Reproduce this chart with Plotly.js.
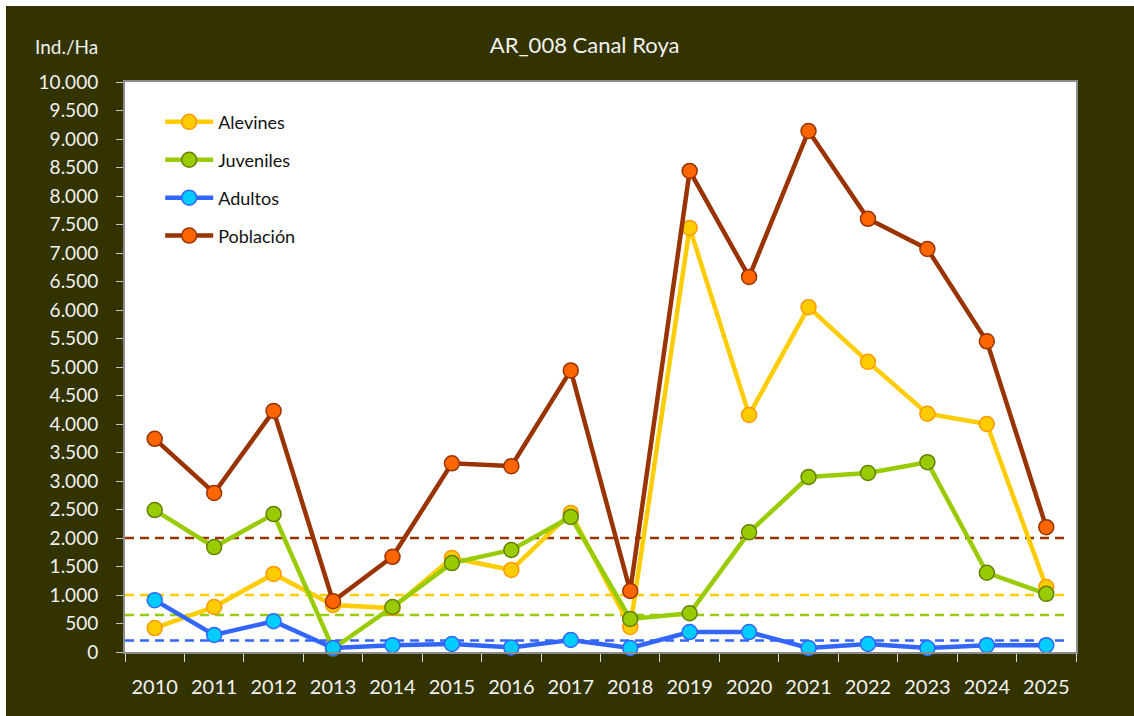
<!DOCTYPE html>
<html>
<head>
<meta charset="utf-8">
<script src="https://cdn.plot.ly/plotly-3.0.1.min.js"></script>
<style>
  html, body { margin: 0; padding: 0; background: #ffffff; width: 1134px; height: 716px; overflow: hidden; }
  #chart { position: absolute; left: 6px; top: 6px; width: 1128px; height: 710px; }
</style>
</head>
<body>
<div id="chart"></div>
<script>
// ---- data ----
const years = ['2010','2011','2012','2013','2014','2015','2016','2017','2018','2019','2020','2021','2022','2023','2024','2025'];
const alevines  = [420, 790, 1370, 825, 770, 1650, 1440, 2440, 440, 7440, 4160, 6050, 5090, 4180, 4000, 1140];
const juveniles = [2490, 1840, 2420, 60, 790, 1560, 1790, 2370, 580, 680, 2100, 3070, 3140, 3330, 1390, 1020];
const adultos   = [910, 300, 540, 70, 120, 140, 80, 210, 70, 350, 350, 70, 140, 70, 120, 120];
const poblacion = [3740, 2790, 4230, 890, 1670, 3310, 3260, 4940, 1070, 8440, 6580, 9140, 7600, 7070, 5450, 2190];
// reference (threshold) levels: Población, Alevines, Juveniles, Adultos
const refLabels = ['Población', 'Alevines', 'Juveniles', 'Adultos'];
const refValues = [2000, 1000, 650, 200];
const yTickVals = [0,500,1000,1500,2000,2500,3000,3500,4000,4500,5000,5500,6000,6500,7000,7500,8000,8500,9000,9500,10000];

const FONT = 'Lato, "Open Sans", "DejaVu Sans", sans-serif';
const BG = '#333300';
const TXT = '#f2f2ee';

function series(name, y, lineColor, fill, outline) {
  return {
    type: 'scatter', mode: 'lines+markers', name: name,
    x: years, y: y, cliponaxis: false,
    legendgroup: name,
    line: { color: lineColor, width: 4.5 },
    marker: { symbol: 'circle', size: 15, color: fill, line: { color: outline, width: 1.5 } }
  };
}

const traces = [
  series('Alevines', alevines, '#FFCC00', '#FFCC00', '#FF9900'),
  series('Juveniles', juveniles, '#99CC00', '#99CC00', '#667F00'),
  series('Adultos', adultos, '#3366FF', '#00CCFF', '#3366FF'),
  series('Población', poblacion, '#993300', '#FF6600', '#993300')
];

const refColors = { 'Población': '#993300', 'Alevines': '#FFCC00', 'Juveniles': '#99CC00', 'Adultos': '#3366FF' };
const shapes = refValues.map((v, i) => ({
  type: 'line', xref: 'paper', yref: 'y', x0: 0, x1: 0.99, y0: v, y1: v,
  layer: 'below',
  line: { color: refColors[refLabels[i]], width: 2.5, dash: '9px,6px' }
}));

const layout = {
  width: 1128, height: 710,
  paper_bgcolor: BG, plot_bgcolor: '#ffffff',
  margin: { l: 119, r: 58, t: 76, b: 64 },
  separators: ',.',
  font: { family: FONT, color: TXT, size: 19 },
  title: {
    text: 'AR_008 Canal Roya', xref: 'container', x: 0.513, xanchor: 'center',
    yref: 'container', y: 0.944, yanchor: 'middle',
    font: { family: FONT, size: 22, color: TXT }
  },
  showlegend: true,
  legend: {
    x: 0.037, y: 0.962, xanchor: 'left', yanchor: 'top',
    bgcolor: 'rgba(0,0,0,0)', borderwidth: 0,
    font: { family: FONT, size: 18, color: '#111111' },
    traceorder: 'grouped', tracegroupgap: 11.5, itemwidth: 48
  },
  xaxis: {
    type: 'category', range: [-0.5, 15.5], autorange: false,
    tickson: 'boundaries', ticks: 'outside', ticklen: 8, tickwidth: 1,
    tickcolor: '#d8d8d8', showline: true, linecolor: '#8c8c8c', linewidth: 2, mirror: true,
    showgrid: false, zeroline: false, ticklabelstandoff: 16,
    tickfont: { family: FONT, size: 20, color: TXT }
  },
  yaxis: {
    range: [0, 10000], autorange: false, tickvals: yTickVals, tickformat: ',d',
    ticks: 'outside', ticklen: 7, tickwidth: 1, tickcolor: '#c8c8c8',
    showline: true, linecolor: '#8c8c8c', linewidth: 2, mirror: true,
    showgrid: false, zeroline: false, ticklabelstandoff: 14,
    tickfont: { family: FONT, size: 19, color: TXT }
  },
  shapes: shapes,
  annotations: [{
    text: 'Ind./Ha', xref: 'paper', yref: 'paper', x: -0.026, y: 1.063,
    xanchor: 'right', yanchor: 'middle', showarrow: false,
    font: { family: FONT, size: 19, color: TXT }
  }]
};

Plotly.newPlot('chart', traces, layout, { displayModeBar: false, staticPlot: true });
</script>
</body>
</html>
